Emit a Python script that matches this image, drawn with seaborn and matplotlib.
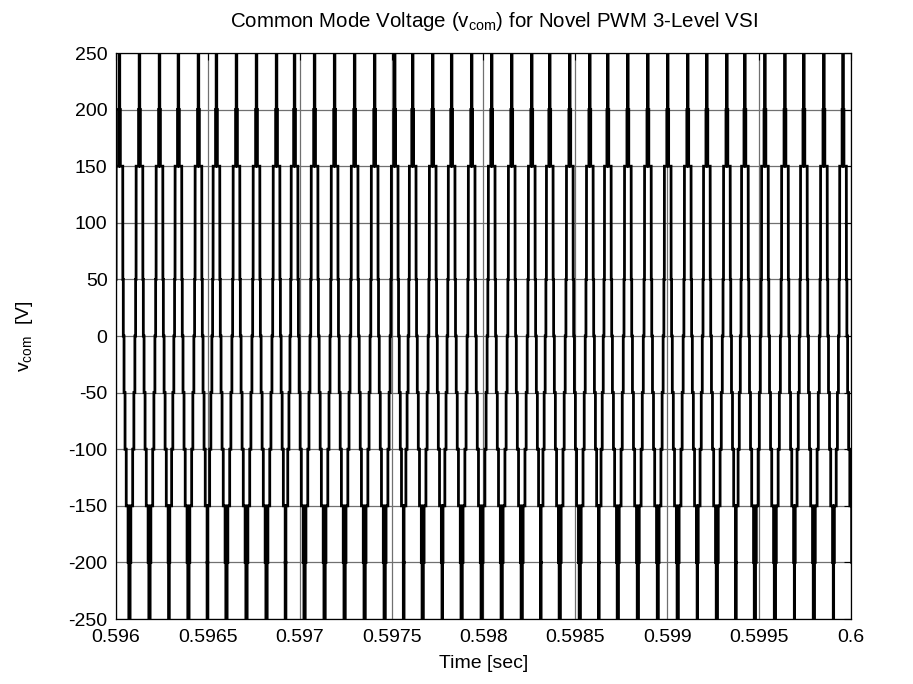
import numpy as np
import pandas as pd
import seaborn as sns
import matplotlib
matplotlib.use("Agg")
import matplotlib.pyplot as plt

# --- data -------------------------------------------------------------
# centres (s) of the positive pulse columns (the signal is clipped above +250 V)
pulse_centres = [0.596019, 0.596128, 0.596237, 0.596340, 0.596449, 0.596547,
                 0.596656, 0.596765, 0.596874, 0.596972, 0.597081, 0.597190,
                 0.597299, 0.597408, 0.597517, 0.597615, 0.597724, 0.597827,
                 0.597936, 0.598045, 0.598154, 0.598263, 0.598361, 0.598470,
                 0.598579, 0.598677, 0.598786, 0.598895, 0.599003, 0.599112,
                 0.599216, 0.599325, 0.599423, 0.599532, 0.599641, 0.599744,
                 0.599853, 0.599957]
# staircase on the rising side: step times relative to the pulse centre (us) and level reached (V)
rise_offsets_us = [-51.0, -47.0, -37.0, -30.5, -25.0, -21.0, -18.5, -18.0, -5.0, -1.6]
rise_levels = [-200, -150, -100, -50, 0, 50, 100, 150, 200, 300]
# staircase on the falling side
fall_offsets_us = [1.6, 5.0, 18.0, 18.5, 21.0, 25.0, 30.5, 37.0, 47.0, 51.0]
fall_levels = [200, 150, 100, 50, 0, -50, -100, -150, -200, -300]
start_level = -300

y_ticks = [-250, -200, -150, -100, -50, 0, 50, 100, 150, 200, 250]
x_ticks = [0.596, 0.5965, 0.597, 0.5975, 0.598, 0.5985, 0.599, 0.5995, 0.6]
x_ticklabels = ["0.596", "0.5965", "0.597", "0.5975", "0.598", "0.5985", "0.599", "0.5995", "0.6"]

# --- build the step trace from the read values -------------------------
ts, vs = [0.5959], [start_level]
cur = start_level
for c in pulse_centres:
    for off, lev in list(zip(rise_offsets_us, rise_levels)) + list(zip(fall_offsets_us, fall_levels)):
        t = c + off * 1e-6
        ts += [t, t]
        vs += [cur, lev]
        cur = lev
ts.append(0.6001)
vs.append(cur)
df = pd.DataFrame({"t": ts, "v": vs})

# --- plot ---------------------------------------------------------------
sns.set_theme(style="white")
plt.rcParams["font.family"] = ["Liberation Sans", "DejaVu Sans"]
plt.rcParams["mathtext.fontset"] = "custom"
plt.rcParams["mathtext.rm"] = "Liberation Sans"
plt.rcParams["mathtext.it"] = "Liberation Sans"
plt.rcParams["axes.unicode_minus"] = False
plt.rcParams["text.color"] = "black"
plt.rcParams["axes.labelcolor"] = "black"
plt.rcParams["xtick.color"] = "black"
plt.rcParams["ytick.color"] = "black"

fig = plt.figure(figsize=(9.13, 6.84), dpi=100)
ax = fig.add_axes([0.127, 0.095, 0.805, 0.8275])

sns.lineplot(data=df, x="t", y="v", sort=False, estimator=None, ax=ax,
             color="black", linewidth=2.0, solid_joinstyle="miter", zorder=3)

ax.set_xlim(0.596, 0.6)
ax.set_ylim(-250, 250)
ax.set_xticks(x_ticks)
ax.set_xticklabels(x_ticklabels)
ax.set_yticks(y_ticks)
ax.grid(True, color="#707070", linewidth=0.9, linestyle="-")
ax.tick_params(direction="in", length=5, width=0.8, top=True, right=True,
               labelsize=14, colors="black")
ax.tick_params(axis="x", pad=7)
ax.tick_params(axis="y", pad=6)
for s in ax.spines.values():
    s.set_visible(True)
    s.set_color("black")
    s.set_linewidth(0.9)
    s.set_zorder(5)

ax.set_xlabel("Time [sec]", fontsize=14, labelpad=7, color="black")
ax.set_ylabel(r"v$_{\mathrm{com}}$  [V]", fontsize=14, labelpad=24, color="black")
ax.set_title(r"Common Mode Voltage (v$_{\mathrm{com}}$) for Novel PWM 3-Level VSI",
             fontsize=14.8, pad=19, x=0.515, color="black")

fig.savefig("out.png", dpi=100, facecolor="white")
